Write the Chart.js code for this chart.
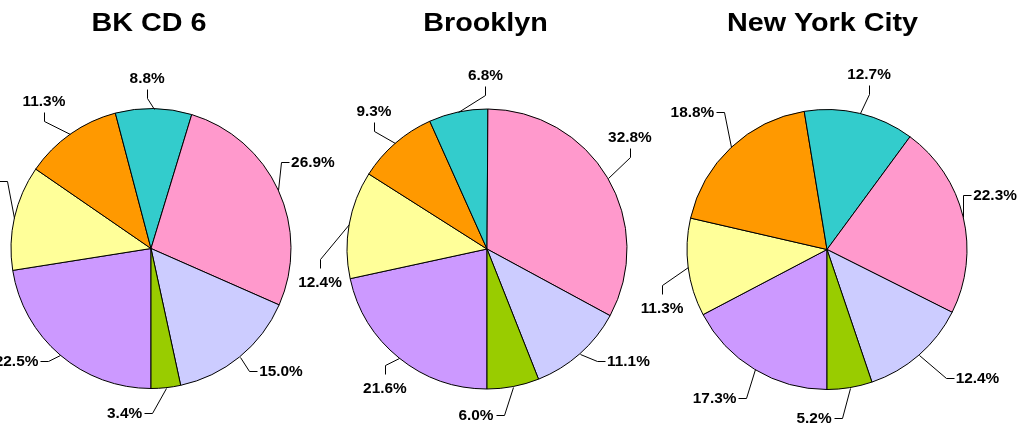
<!DOCTYPE html>
<html>
<head>
<meta charset="utf-8">
<script src="https://cdn.jsdelivr.net/npm/chart.js@4.4.1/dist/chart.umd.min.js"></script>
<style>
html,body{margin:0;padding:0;background:#fff;}
#wrap{position:relative;width:1032px;height:424px;overflow:hidden;}
#wrap canvas{position:absolute;left:0;top:0;}
</style>
</head>
<body>
<div id="wrap">
<canvas id="c1" width="1032" height="424" style="width:1032px;height:424px"></canvas>
<canvas id="c2" width="1032" height="424" style="width:1032px;height:424px"></canvas>
<canvas id="c3" width="1032" height="424" style="width:1032px;height:424px"></canvas>
</div>
<script>
// ---------- DATA ----------
const categories = ['Category 1', 'Category 2', 'Category 3', 'Category 4', 'Category 5', 'Category 6', 'Category 7'];
const titles = ['BK CD 6', 'Brooklyn', 'New York City'];
const bkcd6Values    = [22.5, 12.1, 11.3, 8.8, 26.9, 15.0, 3.4];
const brooklynValues = [21.6, 12.4, 9.3, 6.8, 32.8, 11.1, 6.0];
const nycValues      = [17.3, 11.3, 18.8, 12.7, 22.3, 12.4, 5.2];

// ---------- STYLE / LAYOUT ----------
const sliceColors = ['#CC99FF', '#FFFF99', '#FF9900', '#33CCCC', '#FF99CC', '#CCCCFF', '#99CC00'];
const FONT = '"Liberation Sans", Arial, Helvetica, sans-serif';
const LABEL_SX = 1.1, TITLE_SX = 1.15;

// label placement: [angle clockwise from top (deg), distance from pie centre (px)]
const labelLayouts = [
  [[230.2,175],[291.1,188],[324.1,182.6],[358.7,171],[62.0,183.4],[133.2,178.3],[189.1,167]],
  [[216.3,172.4],[258.7,170.3],[320.7,178.4],[359.5,174],[51.9,181.6],[128.4,180.5],[183.8,166.4]],
  [[217.2,185.9],[250.5,175],[315.7,192.7],[13.5,180],[71.9,176.8],[130.4,197.6],[184.4,168.5]]
];
const paddings = [
  {left:0, right:730, top:73, bottom:0},
  {left:0, right:58, top:74, bottom:0},
  {left:622, right:0, top:75, bottom:0}
];
const titleOffsets = [-2, -1.5, -4.5];

function scaledText(ctx, text, x, y, sx, align) {
  ctx.save();
  ctx.translate(x, y);
  ctx.scale(sx, 1);
  ctx.textAlign = align || 'center';
  ctx.textBaseline = 'alphabetic';
  ctx.fillText(text, 0, 0);
  ctx.restore();
}

const pieLabels = {
  id: 'pieLabels',
  afterDatasetsDraw(chart, args, opts) {
    const ctx = chart.ctx;
    const meta = chart.getDatasetMeta(0);
    const ds = chart.data.datasets[0];
    ctx.save();
    ctx.fillStyle = '#000';
    ctx.strokeStyle = '#000';
    ctx.lineWidth = 1;
    let cxT = 0;
    meta.data.forEach((arc, i) => {
      const p = arc.getProps(['x','y','startAngle','endAngle','outerRadius'], true);
      cxT = p.x;
      const mid = (p.startAngle + p.endAngle) / 2;
      const ex = p.x + Math.cos(mid) * p.outerRadius;
      const ey = p.y + Math.sin(mid) * p.outerRadius;
      const [deg, dist] = opts.layout[i];
      const a = (deg - 90) * Math.PI / 180;
      const lx = p.x + Math.cos(a) * dist;
      const ly = p.y + Math.sin(a) * dist;
      const text = ds.data[i].toFixed(1) + '%';
      ctx.font = 'bold 14px ' + FONT;
      const w = ctx.measureText(text).width * LABEL_SX;
      const dx = lx - ex, dy = ly - ey;
      let pts;
      if (Math.abs(dx) > Math.abs(dy)) {
        const s = dx > 0 ? -1 : 1;
        const x0 = lx + s * (w / 2 + 2);
        pts = [[x0, ly], [x0 + s * 8, ly], [ex, ey]];
      } else {
        const s = dy > 0 ? -1 : 1;
        const y0 = ly + s * (dy > 0 ? 14 : 11);
        pts = [[lx, y0], [lx, y0 + s * 9], [ex, ey]];
      }
      ctx.beginPath();
      pts.forEach((q, k) => {
        const X = Math.round(q[0]) + 0.5, Y = Math.round(q[1]) + 0.5;
        if (k === 0) ctx.moveTo(X, Y); else ctx.lineTo(X, Y);
      });
      ctx.stroke();
      scaledText(ctx, text, lx, ly + 5, LABEL_SX, 'center');
    });
    ctx.font = 'bold 25px ' + FONT;
    scaledText(ctx, opts.title, cxT + opts.titleOffset, 31, TITLE_SX, 'center');
    ctx.restore();
  }
};

function makePie(id, values, idx) {
  return new Chart(document.getElementById(id), {
    type: 'pie',
    data: {
      labels: categories,
      datasets: [{
        data: values,
        backgroundColor: sliceColors,
        borderColor: '#000000',
        borderWidth: 1,
        hoverOffset: 0
      }]
    },
    options: {
      responsive: false,
      animation: false,
      events: [],
      rotation: 180,
      radius: 140,
      layout: { padding: paddings[idx] },
      plugins: {
        legend: { display: false },
        tooltip: { enabled: false },
        title: { display: false },
        pieLabels: { layout: labelLayouts[idx], title: titles[idx], titleOffset: titleOffsets[idx] }
      }
    },
    plugins: [pieLabels]
  });
}

makePie('c1', bkcd6Values, 0);
makePie('c2', brooklynValues, 1);
makePie('c3', nycValues, 2);
</script>
</body>
</html>
